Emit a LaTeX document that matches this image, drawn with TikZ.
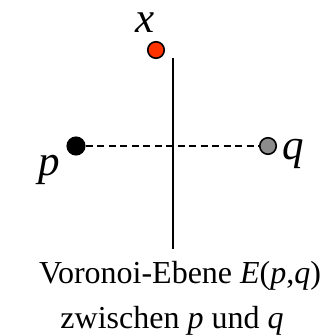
\documentclass[tikz,border=0pt]{standalone}
\usepackage{fontspec}
\setmainfont{Liberation Serif}
\begin{document}
\begin{tikzpicture}[x=1pt,y=-1pt,
  dot/.style={circle,draw=black,line width=1.6pt,inner sep=0pt,minimum size=#1},
  lbl/.style={inner sep=0pt,anchor=base,font=\fontsize{43}{43}\selectfont\itshape},
  captxt/.style={inner sep=0pt,anchor=base,font=\fontsize{32}{32}\selectfont}]
\useasboundingbox (0,0) rectangle (336,335);
\coordinate (top) at (173,58);
\coordinate (bot) at (173,249);
\draw[line width=1.8pt] (top) -- (bot);
\node[dot=17.5pt,fill=black] (p) at (76,146) {};
\node[dot=16.5pt,fill=gray!90] (q) at (268,146) {};
\node[dot=16.5pt,fill={rgb,255:red,255;green,51;blue,0}] (x) at (156,50) {};
\draw[line width=1.6pt,dash pattern=on 7pt off 4.5pt] (p) -- (q);
\node[lbl] (lx) at (145,32) {x};
\node[lbl] (lp) at (49,175) {p};
\node[lbl] (lq) at (293,159) {q};
\node[captxt] (c1) at (180,283) {Voronoi-Ebene \textit{E}(\textit{p},\textit{q})};
\node[captxt] (c2) at (172,328) {zwischen \textit{p} und \textit{q}};
\end{tikzpicture}
\end{document}
